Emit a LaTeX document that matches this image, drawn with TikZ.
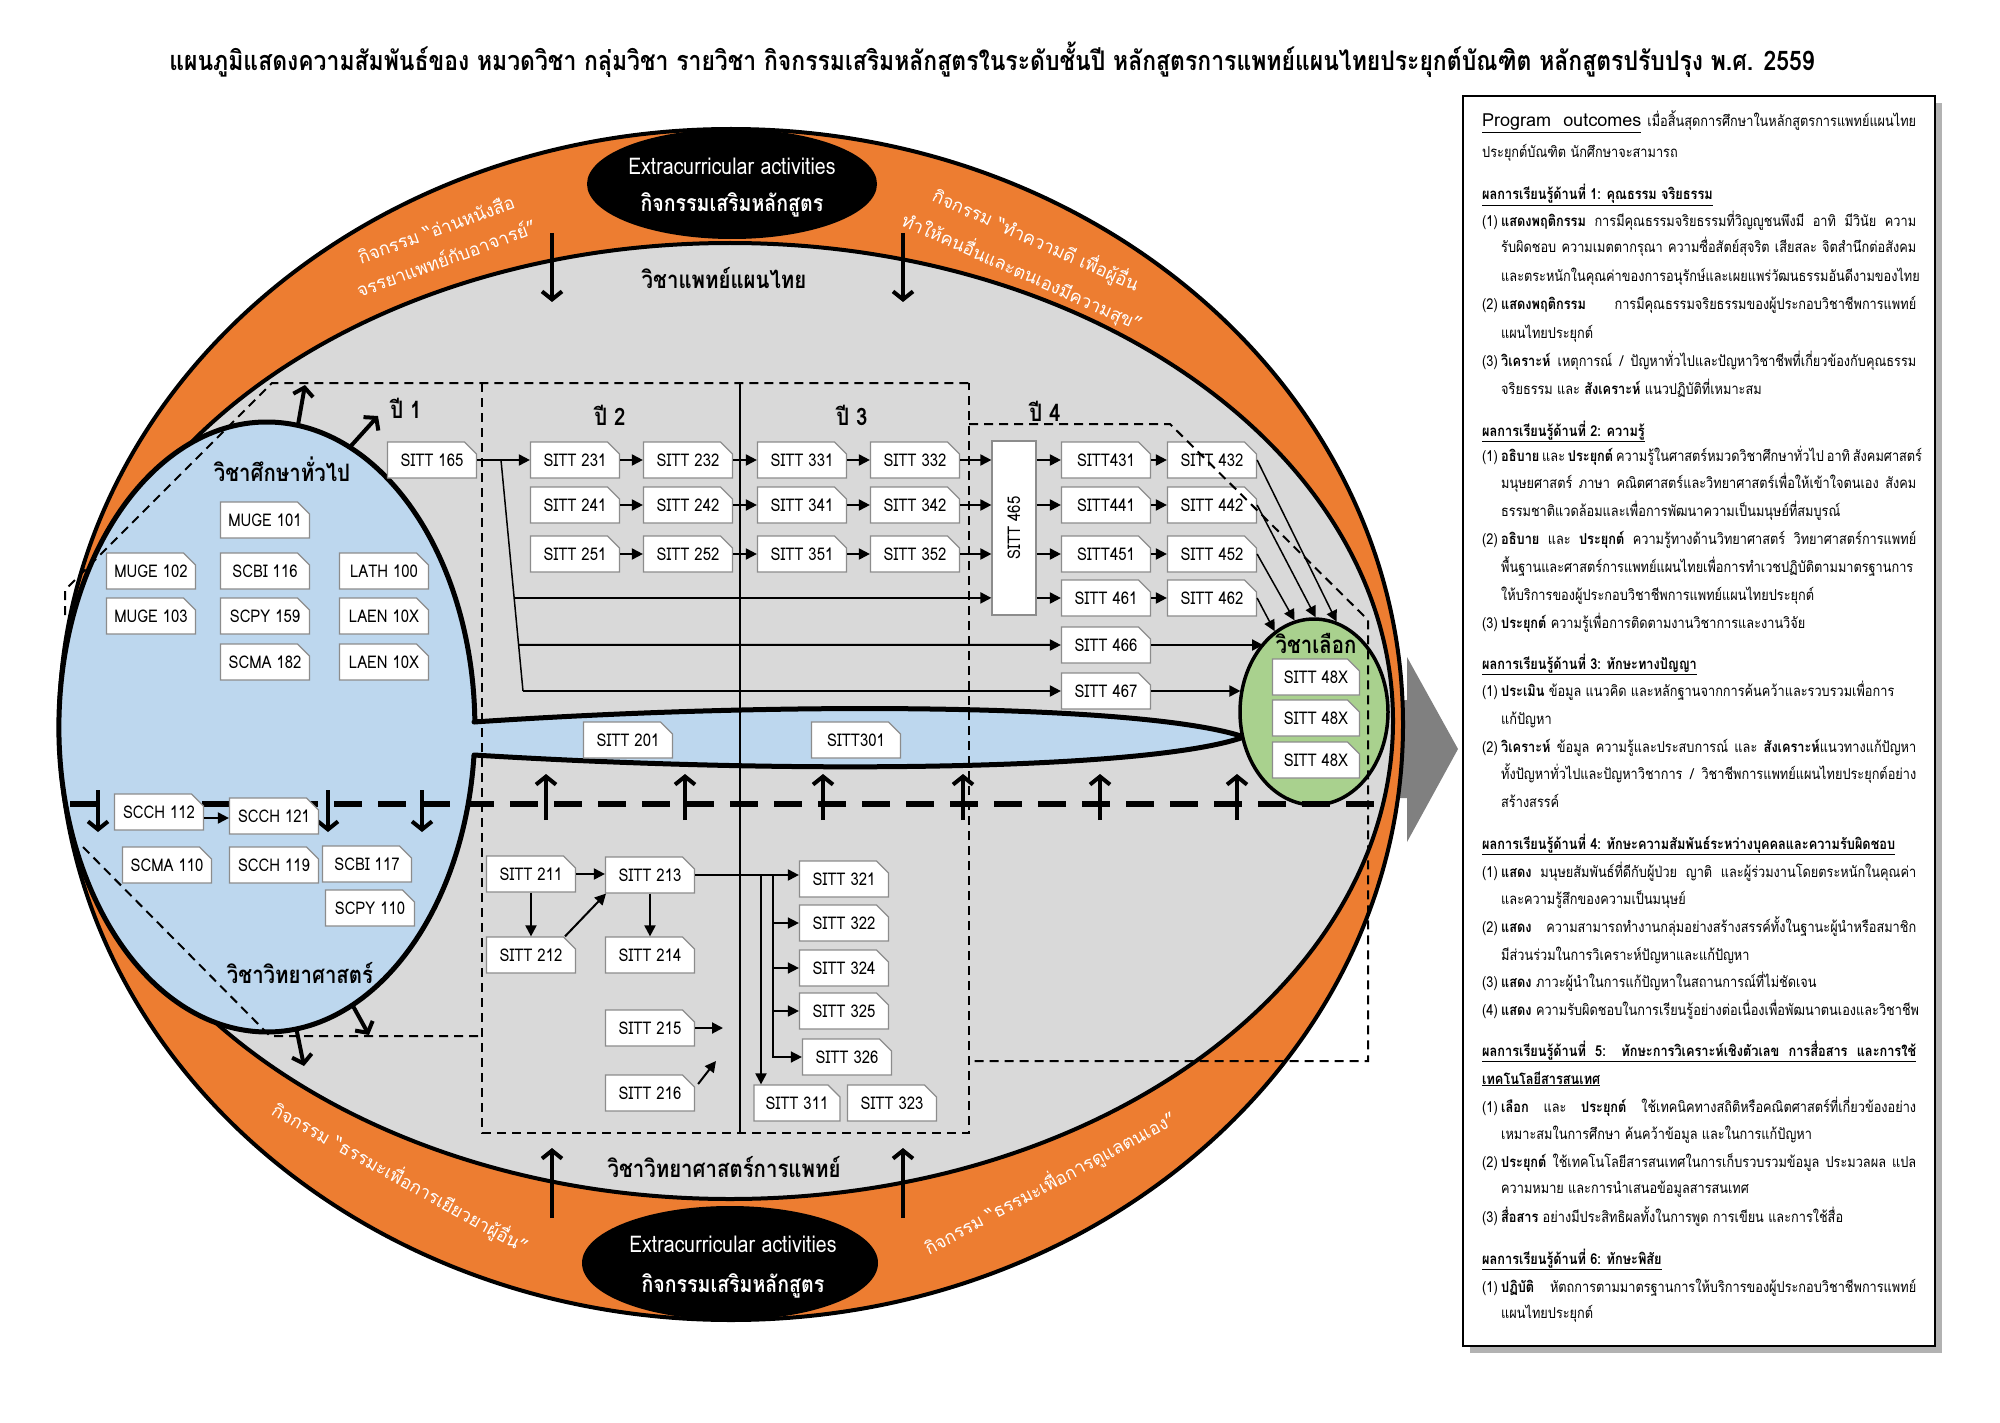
\documentclass[tikz,border=0pt]{standalone}
\usepackage{fontspec}
\setmainfont{Loma}[Script=Thai]
\newfontfamily\cf{Loma}[Script=Thai,FakeStretch=0.85]
\usetikzlibrary{arrows.meta,shapes.misc,shapes.geometric,calc}
\definecolor{org}{HTML}{ED7D31}
\definecolor{gbg}{HTML}{D9D9D9}
\definecolor{blu}{HTML}{BDD7EE}
\definecolor{grn}{HTML}{A9D18E}
\definecolor{gar}{HTML}{808080}
\newcommand\PanJ[3]{\node[pl] (#1) at (1501,#2) {\makebox[415pt][s]{#3}};}
\newcommand\PanL[3]{\node[pl] (#1) at (1501,#2) {#3};}
\newcommand\PanN[4]{\node[pl] (#1) at (1482,#2) {\makebox[19pt][l]{#3}\makebox[415pt][s]{#4}};}
\newcommand\PanM[4]{\node[pl] (#1) at (1482,#2) {\makebox[19pt][l]{#3}#4};}
\newcommand\PanH[3]{\node[pl] (#1) at (1482,#2) {\underline{\textbf{#3}}};}
\begin{document}
\begin{tikzpicture}[x=1pt,y=-1pt,
  cbox/.style={chamfered rectangle, chamfered rectangle corners=north east,
    chamfered rectangle xsep=6pt, chamfered rectangle ysep=6pt,
    draw=black!45, line width=1.2pt, fill=white, minimum width=89pt,
    minimum height=36pt, inner sep=0pt, font=\cf\fontsize{17.5}{20}\selectfont},
  arr/.style={line width=2pt, -{Triangle[length=11pt,width=11pt]}},
  barb/.style={line width=4pt, -{Straight Barb[length=8pt,width=20pt]}},
  tdash/.style={line width=2pt, dash pattern=on 9pt off 6pt},
  bdash/.style={line width=6pt, dash pattern=on 28pt off 16pt},
  lbl/.style={font=\cf\bfseries\fontsize{24}{28}\selectfont, inner sep=0pt},
  otx/.style={text=white, font=\fontsize{18}{21}\selectfont, inner sep=0pt},
  ectx/.style={text=white, font=\cf\fontsize{23}{26}\selectfont, inner sep=0pt},
  pl/.style={anchor=base west, inner sep=0pt, font=\cf\fontsize{15}{17}\selectfont},
]
\useasboundingbox (0,0) rectangle (2000,1423);
\fill[white] (0,0) rectangle (2000,1423);

% title
\node[font=\cf\bfseries\fontsize{27}{32}\selectfont, inner sep=0pt] (title) at (992,60) {แผนภูมิแสดงความสัมพันธ์ของ หมวดวิชา กลุ่มวิชา รายวิชา กิจกรรมเสริมหลักสูตรในระดับชั้นปี หลักสูตรการแพทย์แผนไทยประยุกต์บัณฑิต หลักสูตรปรับปรุง พ.ศ. 2559};

% big gray arrow
\fill[gar] (1380,700) -- (1407,700) -- (1407,657) -- (1458,749) -- (1407,842) -- (1407,798) -- (1380,798) -- cycle;

% rings
\draw[line width=4pt, fill=org] (731,724.5) ellipse [x radius=672, y radius=595.5];
\draw[line width=4pt, fill=gbg] (730,721) ellipse [x radius=663, y radius=478];
\node[ellipse, fill=black, minimum width=290pt, minimum height=110pt, inner sep=0pt] (ectop) at (732,184) {};
\node[ellipse, fill=black, minimum width=296pt, minimum height=114pt, inner sep=0pt] (ecbot) at (730,1263) {};
\node[ectx] (ect1) at (732,166) {Extracurricular activities};
\node[ectx, font=\cf\bfseries\fontsize{23}{26}\selectfont] (ect2) at (732,205) {กิจกรรมเสริมหลักสูตร};
\node[ectx] (ecb1) at (733,1244) {Extracurricular activities};
\node[ectx, font=\cf\bfseries\fontsize{23}{26}\selectfont] (ecb2) at (733,1286) {กิจกรรมเสริมหลักสูตร};

% orange band texts
\node[otx, rotate=20] (ot1) at (436,229) {กิจกรรม “อ่านหนังสือ};
\node[otx, rotate=20] (ot2) at (446,258) {จรรยาแพทย์กับอาจารย์”};
\node[otx, rotate=-24] (ot3) at (1036,240) {กิจกรรม “ทำความดี เพื่อผู้อื่น};
\node[otx, rotate=-24] (ot4) at (1022,272) {ทำให้คนอื่นและตนเองมีความสุข”};
\node[otx, rotate=-29] (ot5) at (400,1178) {กิจกรรม “ธรรมะเพื่อการเยียวยาผู้อื่น”};
\node[otx, rotate=28] (ot6) at (1050,1183) {กิจกรรม “ธรรมะเพื่อการดูแลตนเอง”};

% blue general education shape with spindle
\draw[line width=5pt, line join=round, fill=blu] (474,722) .. controls (800,700) and (1150,705) .. (1244,737) .. controls (1150,770) and (800,775) .. (474,755) arc[start angle=5.27, end angle=359.06, x radius=208, y radius=305] -- cycle;
% elective ellipse
\node[ellipse, draw, line width=3.5pt, fill=grn, minimum width=148pt, minimum height=186pt, inner sep=0pt] (green) at (1314,712) {};

% thick dashed line and year divider
\draw[bdash] (70,804) -- (1374,804);
\draw[line width=2pt] (740,383) -- (740,1133);

% open arrows
\coordinate (ta1) at (552,233); \coordinate (tb1) at (552,302);
\coordinate (ta2) at (903,233); \coordinate (tb2) at (903,302);
\coordinate (ba1) at (552,1218); \coordinate (bb1) at (552,1148);
\coordinate (ba2) at (903,1218); \coordinate (bb2) at (903,1148);
\draw[barb] (ta1) -- (tb1);
\draw[barb] (ta2) -- (tb2);
\draw[barb] (ba1) -- (bb1);
\draw[barb] (ba2) -- (bb2);
\coordinate (ga1) at (298,425); \coordinate (gb1) at (305,385);
\coordinate (ga2) at (350,447); \coordinate (gb2) at (378,416);
\coordinate (sa1) at (296,1027); \coordinate (sb1) at (304,1066);
\coordinate (sa2) at (353,1006); \coordinate (sb2) at (369,1035);
\draw[barb] (ga1) -- (gb1);
\draw[barb] (ga2) -- (gb2);
\draw[barb] (sa1) -- (sb1);
\draw[barb] (sa2) -- (sb2);
\foreach \x [count=\i] in {98,328,422} {
  \coordinate (da\i) at (\x,790); \coordinate (db\i) at (\x,832);
  \draw[barb] (da\i) -- (db\i);
}
\foreach \x [count=\i] in {546,685,823,963,1100,1237} {
  \coordinate (ua\i) at (\x,820); \coordinate (ub\i) at (\x,774);
  \draw[barb] (ua\i) -- (ub\i);
}

% boxes year 1 / general
\node[cbox] (s165) at (432,460) {SITT 165};
\node[cbox] (muge101) at (265,520) {MUGE 101};
\node[cbox] (muge102) at (151,571) {MUGE 102};
\node[cbox] (muge103) at (151,616) {MUGE 103};
\node[cbox] (scbi116) at (265,571) {SCBI 116};
\node[cbox] (scpy159) at (265,616) {SCPY 159};
\node[cbox] (scma182) at (265,662) {SCMA 182};
\node[cbox] (lath100) at (384,571) {LATH 100};
\node[cbox] (laenA) at (384,616) {LAEN 10X};
\node[cbox] (laenB) at (384,662) {LAEN 10X};
\node[cbox] (scch112) at (159,812) {SCCH 112};
\node[cbox] (scch121) at (274,816) {SCCH 121};
\node[cbox] (scma110) at (167,865) {SCMA 110};
\node[cbox] (scch119) at (274,865) {SCCH 119};
\node[cbox] (scbi117) at (367,864) {SCBI 117};
\node[cbox] (scpy110) at (370,908) {SCPY 110};
% year 2-3 upper
\node[cbox] (s231) at (575,460) {SITT 231};
\node[cbox] (s232) at (688,460) {SITT 232};
\node[cbox] (s331) at (802,460) {SITT 331};
\node[cbox] (s332) at (915,460) {SITT 332};
\node[cbox] (s241) at (575,505) {SITT 241};
\node[cbox] (s242) at (688,505) {SITT 242};
\node[cbox] (s341) at (802,505) {SITT 341};
\node[cbox] (s342) at (915,505) {SITT 342};
\node[cbox] (s251) at (575,554) {SITT 251};
\node[cbox] (s252) at (688,554) {SITT 252};
\node[cbox] (s351) at (802,554) {SITT 351};
\node[cbox] (s352) at (915,554) {SITT 352};
% year 4
\node[cbox, chamfered rectangle corners=north west, minimum width=44pt, minimum height=174pt] (s465) at (1014,528) {};
\node[rotate=90, font=\cf\fontsize{17.5}{20}\selectfont, inner sep=0pt] (t465) at (s465) {SITT 465};
\node[cbox] (s431) at (1106,460) {SITT431};
\node[cbox] (s432) at (1212,460) {SITT 432};
\node[cbox] (s441) at (1106,505) {SITT441};
\node[cbox] (s442) at (1212,505) {SITT 442};
\node[cbox] (s451) at (1106,554) {SITT451};
\node[cbox] (s452) at (1212,554) {SITT 452};
\node[cbox] (s461) at (1106,598) {SITT 461};
\node[cbox] (s462) at (1212,598) {SITT 462};
\node[cbox] (s466) at (1106,645) {SITT 466};
\node[cbox] (s467) at (1106,691) {SITT 467};
\node[cbox, minimum width=87pt] (e1) at (1316,677) {SITT 48X};
\node[cbox, minimum width=87pt] (e2) at (1316,718) {SITT 48X};
\node[cbox, minimum width=87pt] (e3) at (1316,760) {SITT 48X};
% spindle
\node[cbox] (s201) at (628,740) {SITT 201};
\node[cbox] (s301) at (856,740) {SITT301};
% lower year 2-3
\node[cbox] (s211) at (531,874) {SITT 211};
\node[cbox] (s213) at (650,875) {SITT 213};
\node[cbox] (s212) at (531,955) {SITT 212};
\node[cbox] (s214) at (650,955) {SITT 214};
\node[cbox] (s215) at (650,1028) {SITT 215};
\node[cbox] (s216) at (650,1093) {SITT 216};
\node[cbox] (s321) at (844,879) {SITT 321};
\node[cbox] (s322) at (844,923) {SITT 322};
\node[cbox] (s324) at (844,968) {SITT 324};
\node[cbox] (s325) at (844,1011) {SITT 325};
\node[cbox] (s326) at (847,1057) {SITT 326};
\node[cbox, minimum width=86pt] (s311) at (797,1103) {SITT 311};
\node[cbox] (s323) at (892,1103) {SITT 323};

% connectors
\draw[arr] (s165.east) -- (s231.west);
\coordinate (j0) at (501,460);
\coordinate (jb) at (523,691);
\draw[line width=1.5pt] (j0) -- (jb);
\coordinate (jr1) at ($(j0)!0.597!(jb)$);
\coordinate (jr2) at ($(j0)!0.80!(jb)$);
\draw[arr] (jr1) -- (jr1 -| s465.west);
\draw[arr] (jr2) -- (s466.west);
\draw[arr] (jb) -- (s467.west);
\foreach \a/\b in {s231/s232,s232/s331,s331/s332,s241/s242,s242/s341,s341/s342,s251/s252,s252/s351,s351/s352,s431/s432,s441/s442,s451/s452,s461/s462}
  \draw[arr] (\a.east) -- (\b.west);
\foreach \a in {s332,s342,s352}
  \draw[arr] (\a.east) -- (\a.east -| s465.west);
\foreach \b in {s431,s441,s451,s461}
  \draw[arr] (\b.west -| s465.east) -- (\b.west);
\draw[arr, line width=1.5pt] (s432.east) -- (green.76);
\draw[arr, line width=1.5pt] (s442.east) -- (green.89);
\draw[arr, line width=1.5pt] (s452.east) -- (green.102);
\draw[arr, line width=1.5pt] (s462.east) -- (green.116);
\draw[arr] (s466.east) -- (s466.east -| green.126);
\draw[arr] (s467.east) -- (s467.east -| green.163);
% lower
\draw[arr] (s211.east) -- (s211.east -| s213.west);
\draw[arr] (s211.south) -- (s212.north);
\draw[arr] (s213.south) -- (s214.north);
\draw[arr] ($(s212.north)+(34,0)$) -- ($(s213.south)+(-44,0)$);
\coordinate (e215) at (723,1028);
\draw[arr] (s215.east) -- (e215);
\coordinate (e216) at (716,1061);
\draw[arr] ($(s216.east)+(3,-9)$) -- (e216);
\draw[arr] (s213.east) -- (s213.east -| s321.west);
\coordinate (j1) at (761,875);
\coordinate (j2) at (773,875);
\draw[arr] (j1) -- (j1 |- s311.north);
\foreach \b in {s322,s324,s325,s326}
  \draw[arr, line width=1.5pt] (j2) |- (\b.west);
\draw[arr] ($(scch112.east)+(0,6)$) -- ($(scch112.east -| scch121.west)+(0,6)$);

% thin dashed outlines
\draw[tdash] (65,615) -- (65,590) -- (272,383) -- (969,383);
\draw[tdash] (83,847) -- (270,1036) -- (482,1036);
\draw[tdash] (482,383) -- (482,1133) -- (969,1133) -- (969,383);
\draw[tdash] (969,424) -- (1170,424) -- (1368,620) -- (1368,1061) -- (969,1061);

% labels
\node[lbl] (y1) at (406,408) {ปี 1};
\node[lbl] (y2) at (610,415) {ปี 2};
\node[lbl] (y3) at (852,415) {ปี 3};
\node[lbl] (y4) at (1045,411) {ปี 4};
\node[lbl] (lgen) at (282,469) {วิชาศึกษาทั่วไป};
\node[lbl] (lsci) at (300,973) {วิชาวิทยาศาสตร์};
\node[lbl] (lttm) at (724,278) {วิชาแพทย์แผนไทย};
\node[lbl] (lmed) at (724,1167) {วิชาวิทยาศาสตร์การแพทย์};
\node[lbl, font=\cf\bfseries\fontsize{24}{28}\selectfont] (lel) at (1316,643) {วิชาเลือก};

% outcome panel
\fill[black!30] (1470,103) rectangle (1942,1353);
\draw[line width=1.5pt, fill=white] (1463,96) rectangle (1935,1346);
\node[pl] (p0) at (1482,127) {\makebox[434pt][s]{\underline{\normalfont\fontsize{18}{22}\selectfont Program\ \ outcomes} เมื่อสิ้นสุดการศึกษาในหลักสูตรการแพทย์แผนไทย}};
\node[pl] (p0b) at (1482,158) {ประยุกต์บัณฑิต นักศึกษาจะสามารถ};
\PanH{h1}{200}{ผลการเรียนรู้ด้านที่ 1: คุณธรรม จริยธรรม}
\PanN{a11}{227}{(1)}{\textbf{แสดงพฤติกรรม} การมีคุณธรรมจริยธรรมที่วิญญูชนพึงมี อาทิ มีวินัย ความ}
\PanJ{a12}{253}{รับผิดชอบ ความเมตตากรุณา ความซื่อสัตย์สุจริต เสียสละ จิตสำนึกต่อสังคม}
\PanL{a13}{282}{และตระหนักในคุณค่าของการอนุรักษ์และเผยแพร่วัฒนธรรมอันดีงามของไทย}
\PanN{a21}{310}{(2)}{\textbf{แสดงพฤติกรรม} การมีคุณธรรมจริยธรรมของผู้ประกอบวิชาชีพการแพทย์}
\PanL{a22}{338}{แผนไทยประยุกต์}
\PanN{a31}{366}{(3)}{\textbf{วิเคราะห์} เหตุการณ์ / ปัญหาทั่วไปและปัญหาวิชาชีพที่เกี่ยวข้องกับคุณธรรม}
\PanL{a32}{394}{จริยธรรม และ \textbf{สังเคราะห์} แนวปฏิบัติที่เหมาะสม}
\PanH{h2}{436}{ผลการเรียนรู้ด้านที่ 2: ความรู้}
\PanN{b11}{461}{(1)}{\textbf{อธิบาย} และ \textbf{ประยุกต์} ความรู้ในศาสตร์หมวดวิชาศึกษาทั่วไป อาทิ สังคมศาสตร์}
\PanJ{b12}{488}{มนุษยศาสตร์ ภาษา คณิตศาสตร์และวิทยาศาสตร์เพื่อให้เข้าใจตนเอง สังคม}
\PanL{b13}{516}{ธรรมชาติแวดล้อมและเพื่อการพัฒนาความเป็นมนุษย์ที่สมบูรณ์}
\PanN{b21}{544}{(2)}{\textbf{อธิบาย} และ \textbf{ประยุกต์} ความรู้ทางด้านวิทยาศาสตร์ วิทยาศาสตร์การแพทย์}
\PanL{b22}{572}{พื้นฐานและศาสตร์การแพทย์แผนไทยเพื่อการทำเวชปฏิบัติตามมาตรฐานการ}
\PanL{b23}{600}{ให้บริการของผู้ประกอบวิชาชีพการแพทย์แผนไทยประยุกต์}
\PanM{b31}{628}{(3)}{\textbf{ประยุกต์} ความรู้เพื่อการติดตามงานวิชาการและงานวิจัย}
\PanH{h3}{669}{ผลการเรียนรู้ด้านที่ 3: ทักษะทางปัญญา}
\PanM{c11}{696}{(1)}{\textbf{ประเมิน} ข้อมูล แนวคิด และหลักฐานจากการค้นคว้าและรวบรวมเพื่อการ}
\PanL{c12}{724}{แก้ปัญหา}
\PanN{c21}{752}{(2)}{\textbf{วิเคราะห์} ข้อมูล ความรู้และประสบการณ์ และ \textbf{สังเคราะห์}แนวทางแก้ปัญหา}
\PanJ{c22}{779}{ทั้งปัญหาทั่วไปและปัญหาวิชาการ / วิชาชีพการแพทย์แผนไทยประยุกต์อย่าง}
\PanL{c23}{807}{สร้างสรรค์}
\PanH{h4}{849}{ผลการเรียนรู้ด้านที่ 4: ทักษะความสัมพันธ์ระหว่างบุคคลและความรับผิดชอบ}
\PanN{d11}{877}{(1)}{\textbf{แสดง} มนุษยสัมพันธ์ที่ดีกับผู้ป่วย ญาติ และผู้ร่วมงานโดยตระหนักในคุณค่า}
\PanL{d12}{904}{และความรู้สึกของความเป็นมนุษย์}
\PanN{d21}{932}{(2)}{\textbf{แสดง} ความสามารถทำงานกลุ่มอย่างสร้างสรรค์ทั้งในฐานะผู้นำหรือสมาชิก}
\PanL{d22}{960}{มีส่วนร่วมในการวิเคราะห์ปัญหาและแก้ปัญหา}
\PanM{d31}{987}{(3)}{\textbf{แสดง} ภาวะผู้นำในการแก้ปัญหาในสถานการณ์ที่ไม่ชัดเจน}
\PanM{d41}{1015}{(4)}{\textbf{แสดง} ความรับผิดชอบในการเรียนรู้อย่างต่อเนื่องเพื่อพัฒนาตนเองและวิชาชีพ}
\node[pl] (h5) at (1482,1056) {\underline{\makebox[434pt][s]{\textbf{ผลการเรียนรู้ด้านที่ 5: ทักษะการวิเคราะห์เชิงตัวเลข การสื่อสาร และการใช้}}}};
\PanH{h5b}{1084}{เทคโนโลยีสารสนเทศ}
\PanN{f11}{1112}{(1)}{\textbf{เลือก} และ \textbf{ประยุกต์} ใช้เทคนิคทางสถิติหรือคณิตศาสตร์ที่เกี่ยวข้องอย่าง}
\PanL{f12}{1139}{เหมาะสมในการศึกษา ค้นคว้าข้อมูล และในการแก้ปัญหา}
\PanN{f21}{1167}{(2)}{\textbf{ประยุกต์} ใช้เทคโนโลยีสารสนเทศในการเก็บรวบรวมข้อมูล ประมวลผล แปล}
\PanL{f22}{1193}{ความหมาย และการนำเสนอข้อมูลสารสนเทศ}
\PanM{f31}{1222}{(3)}{\textbf{สื่อสาร} อย่างมีประสิทธิผลทั้งในการพูด การเขียน และการใช้สื่อ}
\PanH{h6}{1264}{ผลการเรียนรู้ด้านที่ 6: ทักษะพิสัย}
\PanN{g11}{1292}{(1)}{\textbf{ปฏิบัติ} หัตถการตามมาตรฐานการให้บริการของผู้ประกอบวิชาชีพการแพทย์}
\PanL{g12}{1318}{แผนไทยประยุกต์}
\end{tikzpicture}
\end{document}
